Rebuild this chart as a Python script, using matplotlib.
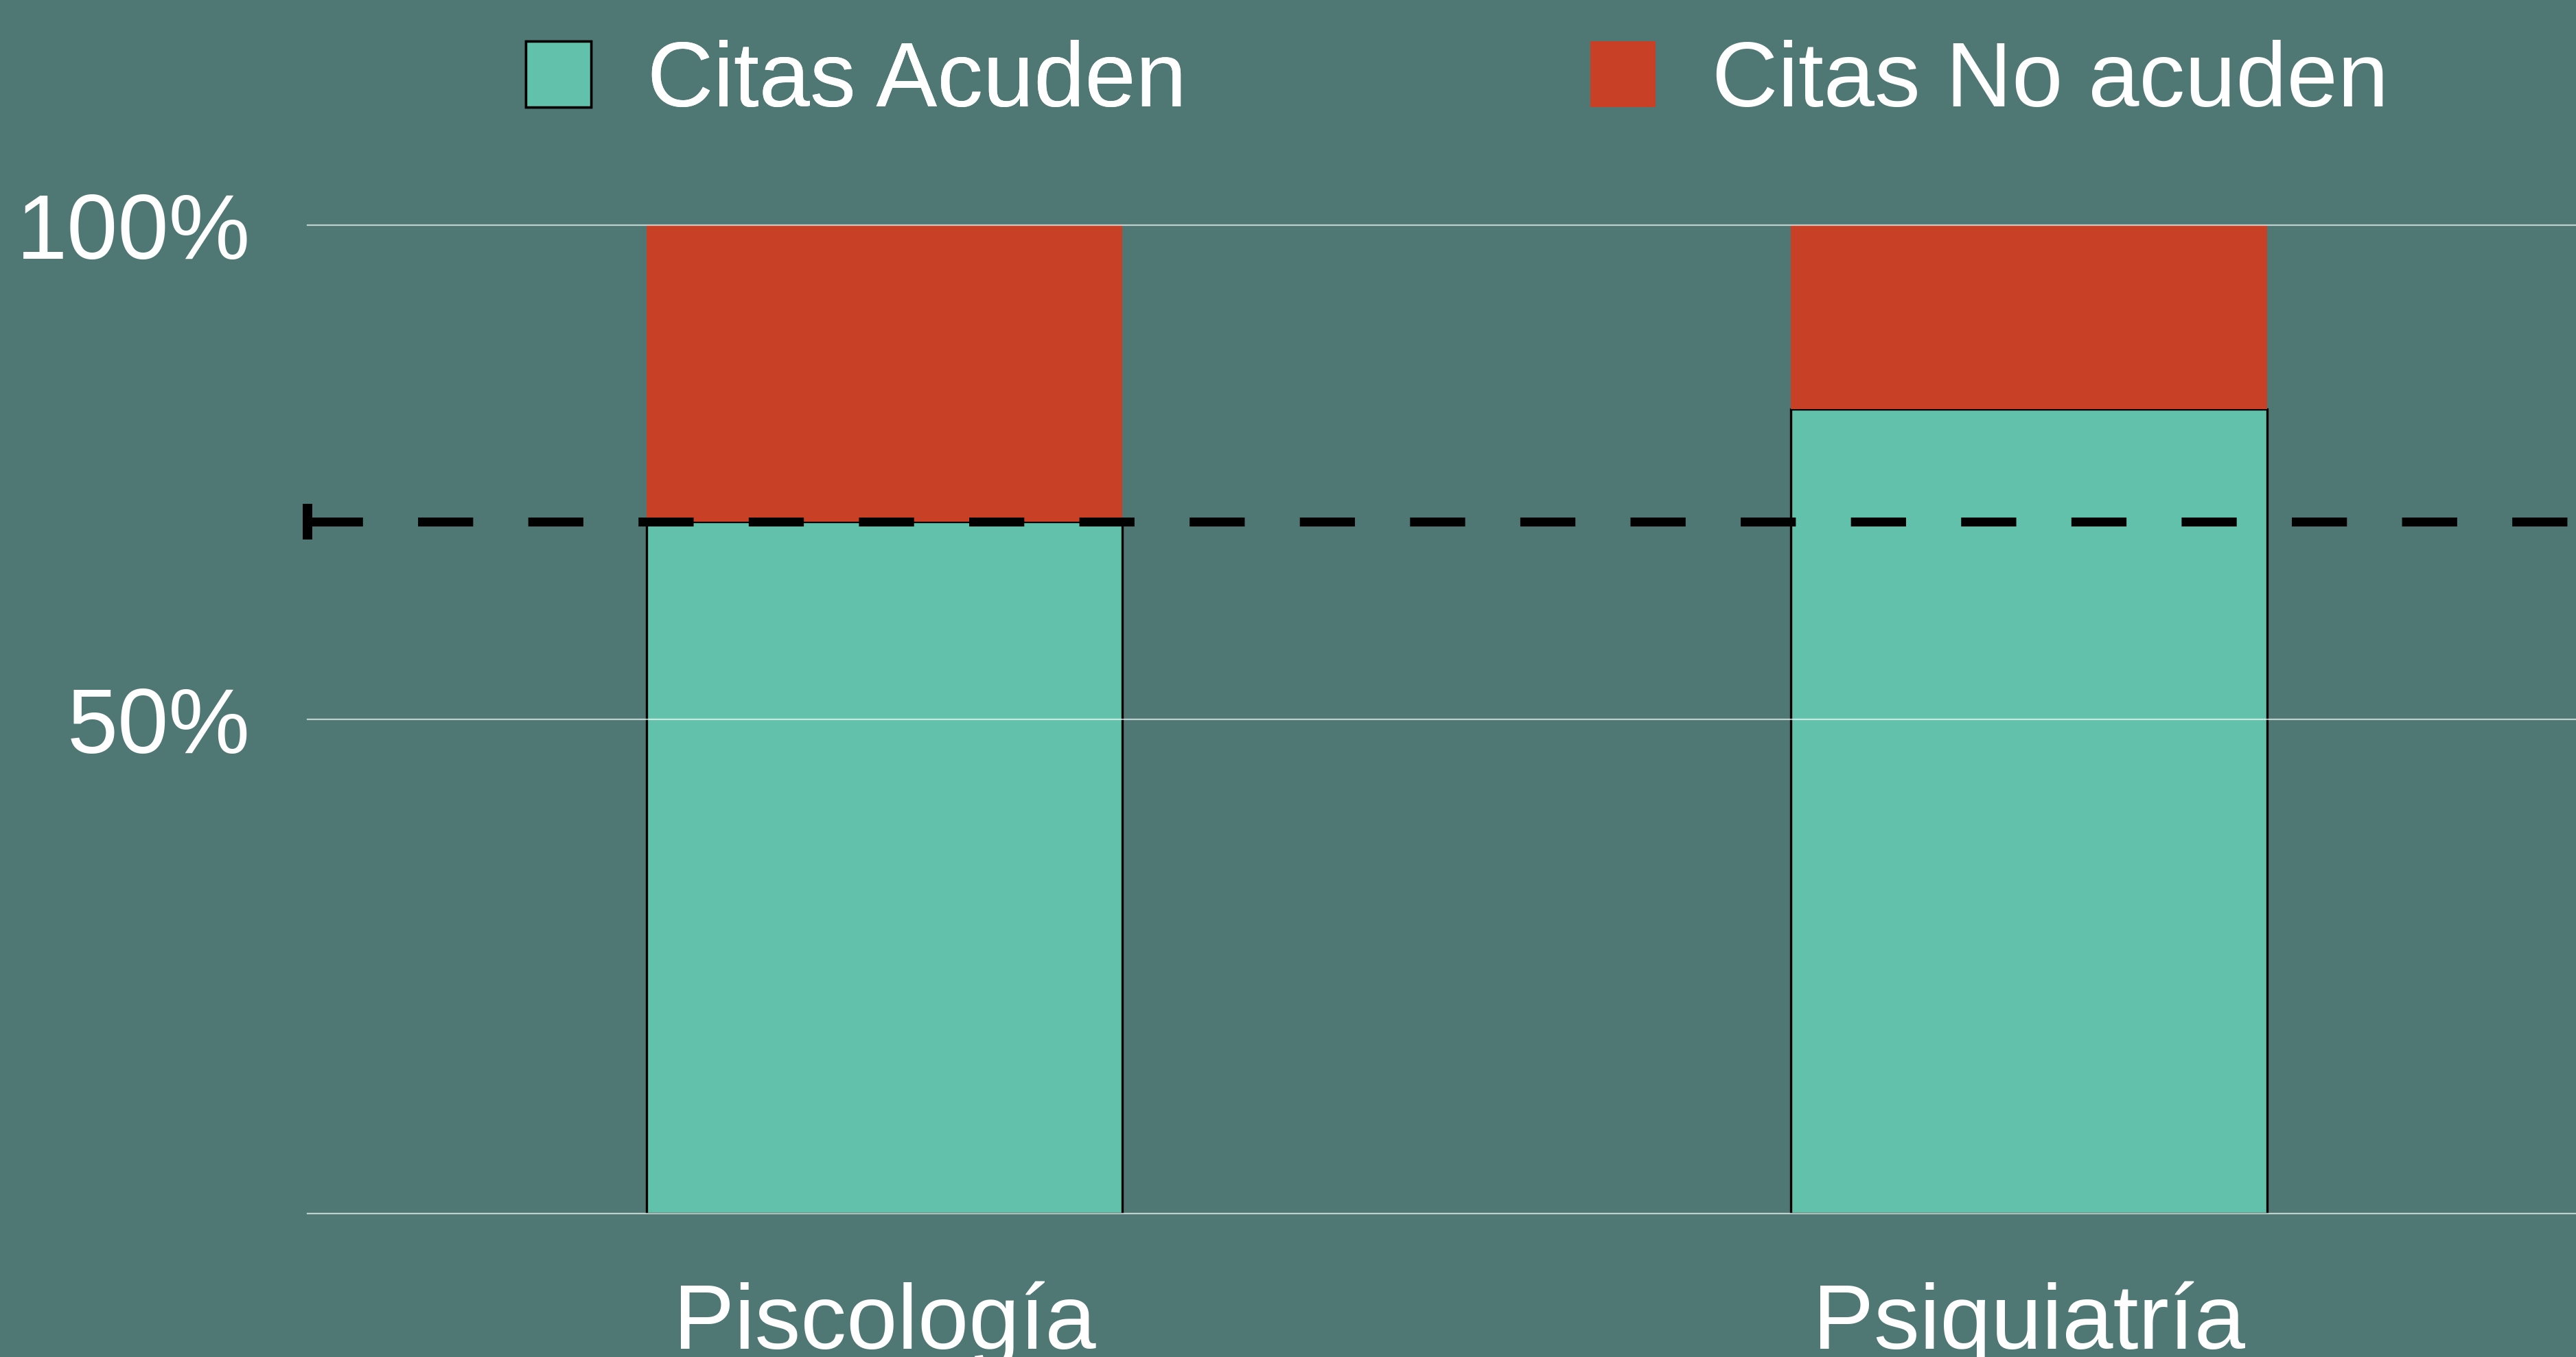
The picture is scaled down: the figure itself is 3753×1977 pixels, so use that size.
import matplotlib
matplotlib.use('Agg')
from matplotlib import pyplot as plt
from matplotlib.patches import Patch

# data
categories = ['Piscología', 'Psiquiatría']
acuden = [70, 81.4]
no_acuden = [30, 18.6]
threshold = 70
y_ticks = [0, 50, 100]
y_tick_labels = ['', '50%', '100%']

bg = '#4f7874'
teal = '#62c1aa'
red = '#c84025'

plt.rcParams['font.family'] = ['Liberation Sans', 'DejaVu Sans']

fig = plt.figure(figsize=(37.53, 19.77), dpi=100, facecolor=bg)
ax = fig.add_axes([448 / 3753, 1 - 1768 / 1977, 1 - 448 / 3753, (1768 - 328) / 1977])
ax.set_facecolor(bg)

x = list(range(len(categories)))
ax.bar(x, acuden, width=0.416, color=teal, edgecolor='black', linewidth=2.4, zorder=1)
ax.bar(x, no_acuden, width=0.416, bottom=acuden, color=red, linewidth=0, zorder=1)

for t in y_ticks:
    ax.axhline(t, color='white', alpha=0.65, linewidth=1.6, zorder=2.5, clip_on=False)

ax.set_xlim(-0.504, 1.478)
ax.set_ylim(0, 100)

xl = ax.get_xlim()
ax.plot([xl[0], xl[1]], [threshold, threshold], color='black', linewidth=9.4,
        linestyle=(0, (6.15, 6.15)), marker='|', markersize=38, markeredgewidth=10,
        markevery=[0], zorder=3, clip_on=False)

ax.set_xticks(x)
ax.set_xticklabels(categories)
ax.set_yticks(y_ticks)
ax.set_yticklabels(y_tick_labels)
ax.tick_params(axis='both', length=0, labelsize=96, labelcolor='white')
ax.tick_params(axis='y', pad=60)
ax.tick_params(axis='x', pad=71)
for s in ax.spines.values():
    s.set_visible(False)

# legend, one entry each
leg1 = fig.legend(handles=[Patch(facecolor=teal, edgecolor='black', linewidth=2.5, label='Citas Acuden')],
                  loc='center left', bbox_to_anchor=(766 / 3753, 1 - 120 / 1977), frameon=False,
                  fontsize=96, labelcolor='white', handlelength=0.71, handleheight=0.73,
                  handletextpad=0.62, borderpad=0, borderaxespad=0)
fig.legend(handles=[Patch(facecolor=red, edgecolor='none', label='Citas No acuden')],
           loc='center left', bbox_to_anchor=(2317 / 3753, 1 - 120 / 1977), frameon=False,
           fontsize=96, labelcolor='white', handlelength=0.71, handleheight=0.73,
           handletextpad=0.62, borderpad=0, borderaxespad=0)
fig.add_artist(leg1)

plt.savefig('out.png', dpi=100, facecolor=bg)
plt.close()
